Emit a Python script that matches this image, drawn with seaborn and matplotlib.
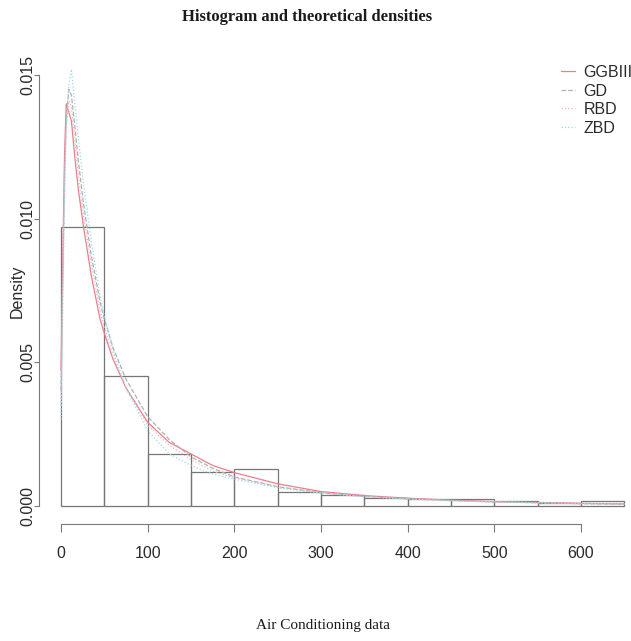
import numpy as np
import pandas as pd
import matplotlib
matplotlib.use("Agg")
import matplotlib.pyplot as plt
import seaborn as sns

# Histogram of the air conditioning data (density scale, bin width 50)
bin_edges = [0, 50, 100, 150, 200, 250, 300, 350, 400, 450, 500, 550, 600, 650]
bar_density = [0.0097, 0.0045, 0.0018, 0.00117, 0.00128, 0.00047, 0.00036,
               0.00026, 0.00024, 0.00024, 0.00015, 0.00010, 0.00015]

# Fitted densities evaluated on a grid
curve_x = [0, 2, 4, 6, 9, 12, 16, 20, 26, 35, 45, 50, 60, 75, 100, 125, 150,
           175, 200, 250, 300, 350, 400, 450, 500, 550, 600, 650]
ggbiii = [0.0047, 0.0085, 0.0122, 0.0140, 0.0137, 0.0134, 0.0121, 0.0110,
          0.0097, 0.0080, 0.0065, 0.0060, 0.0051, 0.0041, 0.0029, 0.0022,
          0.0018, 0.0014, 0.00115, 0.00076, 0.00049, 0.00035, 0.00026,
          0.00019, 0.00014, 0.00011, 0.00008, 0.00006]
gd = [0.0040, 0.0080, 0.0115, 0.0135, 0.0145, 0.0143, 0.0132, 0.0120,
      0.0105, 0.0087, 0.0071, 0.0065, 0.0055, 0.0044, 0.0031, 0.0023,
      0.0017, 0.0013, 0.0010, 0.00066, 0.00045, 0.00032, 0.00024,
      0.00018, 0.00013, 0.00010, 0.00007, 0.00005]
rbd = [0.0035, 0.0078, 0.0112, 0.0132, 0.0141, 0.0139, 0.0127, 0.0115,
       0.0101, 0.0084, 0.0068, 0.0062, 0.0052, 0.0041, 0.0028, 0.0021,
       0.0016, 0.0012, 0.00097, 0.00064, 0.00044, 0.00031, 0.00023,
       0.00017, 0.00013, 0.00010, 0.00007, 0.00005]
zbd = [0.0030, 0.0068, 0.0105, 0.0130, 0.0147, 0.0152, 0.0140, 0.0128,
       0.0112, 0.0092, 0.0073, 0.0066, 0.0054, 0.0041, 0.0026, 0.0018,
       0.0014, 0.0011, 0.00092, 0.00062, 0.00044, 0.00031, 0.00023,
       0.00017, 0.00013, 0.00010, 0.00007, 0.00005]

series_names = ["GGBIII", "GD", "RBD", "ZBD"]
series_values = [ggbiii, gd, rbd, zbd]
series_colors = ["#ec7f88", "#b0b0b0", "#efb0cb", "#98dae3"]
series_styles = ["-", "--", ":", ":"]

x_ticks = [0, 100, 200, 300, 400, 500, 600]
y_ticks = [0.000, 0.005, 0.010, 0.015]
y_tick_labels = ["0.000", "0.005", "0.010", "0.015"]

sns.set_style("white")
plt.rcParams["font.family"] = ["Liberation Sans", "DejaVu Sans"]

W, H = 631, 641
fig = plt.figure(figsize=(W / 100, H / 100), dpi=100)
left_px, right_px, top_px, bottom_px = 38.5, 646.9, 28, 524
ax = fig.add_axes([left_px / W, (H - bottom_px) / H,
                   (right_px - left_px) / W, (bottom_px - top_px) / H])
ax.set_xlim(-26, 676)
ax.set_ylim(-0.00064, 0.01664)

edges = np.array(bin_edges, dtype=float)
mids = (edges[:-1] + edges[1:]) / 2
sns.histplot(x=mids, weights=bar_density, bins=bin_edges, stat="count",
             fill=False, element="bars", color="#767676", linewidth=0.9,
             ax=ax)

for name, vals, col, ls in zip(series_names, series_values,
                               series_colors, series_styles):
    sns.lineplot(x=curve_x, y=vals, color=col, linestyle=ls,
                 linewidth=0.9, label=name, ax=ax)

ax.set_xlabel("")
ax.set_ylabel("")
ax.set_xticks(x_ticks)
ax.set_xticklabels([str(t) for t in x_ticks])
ax.set_yticks(y_ticks)
ax.set_yticklabels(y_tick_labels)

for side in ["top", "right"]:
    ax.spines[side].set_visible(False)
for side in ["left", "bottom"]:
    ax.spines[side].set_color("#7a7a7a")
    ax.spines[side].set_linewidth(0.8)
ax.spines["left"].set_bounds(0, 0.015)
ax.spines["bottom"].set_bounds(0, 600)

ax.tick_params(axis="x", bottom=True, direction="out", length=6, width=0.8,
               color="#7a7a7a", pad=10, labelsize=11.5, labelcolor="#2a2a2a")
ax.tick_params(axis="y", left=True, direction="out", length=3.5, width=0.8,
               color="#7a7a7a", pad=-1.5, labelsize=11.5, labelcolor="#2a2a2a",
               labelrotation=90)
for lab in ax.get_yticklabels():
    lab.set_va("center")

leg = ax.legend(loc="upper left", bbox_to_anchor=(561 / W, 1 - 65 / H),
                bbox_transform=fig.transFigure, frameon=False, fontsize=11.5,
                handlelength=0.9, handletextpad=0.5, labelspacing=0.22,
                borderpad=0, borderaxespad=0)
for t in leg.get_texts():
    t.set_color("#2a2a2a")

fig.text(307 / W, 1 - 17 / H, "Histogram and theoretical densities",
         ha="center", va="center", fontsize=12, fontweight="bold",
         family=["Liberation Serif", "DejaVu Serif"], color="#1a1a1a")
fig.text(323 / W, 1 - 626 / H, "Air Conditioning data",
         ha="center", va="center", fontsize=11,
         family=["Liberation Serif", "DejaVu Serif"], color="#1a1a1a")
fig.text(17 / W, 1 - 291 / H, "Density", rotation=90,
         ha="center", va="center", fontsize=11.5, color="#2a2a2a")

fig.savefig("out.png", dpi=100)
